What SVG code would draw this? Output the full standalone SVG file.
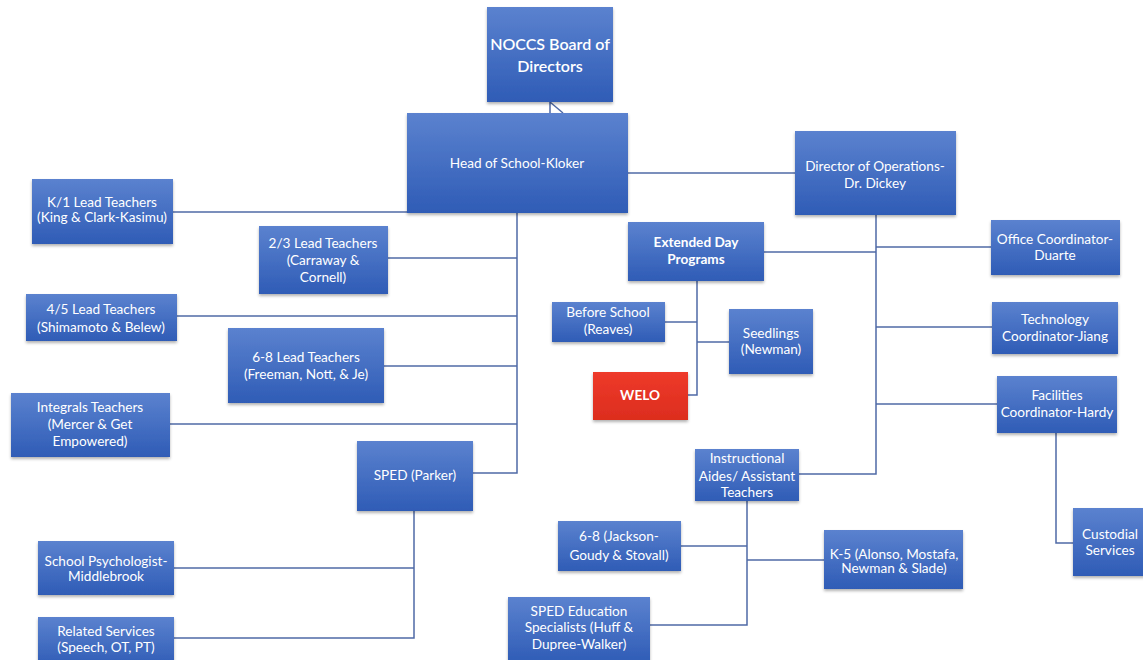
<svg xmlns="http://www.w3.org/2000/svg" width="1143" height="660" viewBox="0 0 1143 660">
<style>
.b{fill:url(#g);filter:url(#sh)}
.r{fill:url(#gr);filter:url(#sh)}
text{font-family:Lato,"Open Sans","Liberation Sans",sans-serif;font-size:13.6px;fill:#fff;text-anchor:middle}
.big{font-size:16px;font-weight:600}
.bd{font-weight:bold}
.c path,.c line{stroke:#4f6aa6;stroke-width:1.5;fill:none}
</style>
<defs>
<linearGradient id="g" x1="0" y1="0" x2="0" y2="1">
<stop offset="0" stop-color="#5b82cf"/>
<stop offset="1" stop-color="#2f5cb6"/>
</linearGradient>
<linearGradient id="gr" x1="0" y1="0" x2="0" y2="1">
<stop offset="0" stop-color="#ee3a2a"/>
<stop offset="1" stop-color="#dc2d1e"/>
</linearGradient>
<filter id="sh" x="-10%" y="-10%" width="130%" height="140%">
<feDropShadow dx="0" dy="2" stdDeviation="1.5" flood-color="#000" flood-opacity="0.3"/>
</filter>
</defs>
<rect width="1143" height="660" fill="#fff"/>
<g class="c" id="connectors">
<path d="M550,113 L550,102 L563,113"/>
<line x1="628" y1="173" x2="795" y2="173"/>
<line x1="173" y1="212" x2="407" y2="212"/>
<path d="M517,213 V473 H473"/>
<line x1="388" y1="258" x2="517" y2="258"/>
<line x1="177" y1="316" x2="517" y2="316"/>
<line x1="384" y1="366" x2="517" y2="366"/>
<line x1="170" y1="424" x2="517" y2="424"/>
<path d="M414,511 V638 H174"/>
<line x1="174" y1="568" x2="414" y2="568"/>
<path d="M876,215 V474 H799"/>
<line x1="876" y1="247" x2="991" y2="247"/>
<line x1="764" y1="252" x2="876" y2="252"/>
<line x1="876" y1="327" x2="992" y2="327"/>
<line x1="876" y1="404" x2="997" y2="404"/>
<path d="M1056,433 V543 H1073"/>
<path d="M697,281 V395 H688"/>
<line x1="665" y1="322" x2="697" y2="322"/>
<line x1="697" y1="342" x2="729" y2="342"/>
<path d="M747,501 V625 H650"/>
<line x1="681" y1="546" x2="747" y2="546"/>
<line x1="747" y1="560" x2="824" y2="560"/>
</g>
<g id="board"><rect class="b" x="487" y="7" width="126" height="95"/><text class="big" x="550" y="50">NOCCS Board of</text><text class="big" x="550" y="72">Directors</text></g>
<g id="head"><rect class="b" x="407" y="113" width="221" height="100"/><text x="517" y="168">Head of School-Kloker</text></g>
<g id="dirops"><rect class="b" x="795" y="131" width="161" height="84"/><text x="875" y="171">Director of Operations-</text><text x="875" y="188">Dr. Dickey</text></g>
<g id="k1"><rect class="b" x="32" y="179" width="141" height="65"/><text x="102" y="207">K/1 Lead Teachers</text><text x="102" y="222">(King &amp; Clark-Kasimu)</text></g>
<g id="l23"><rect class="b" x="259" y="226" width="129" height="68"/><text x="323" y="248">2/3 Lead Teachers</text><text x="323" y="265">(Carraway &amp;</text><text x="323" y="282">Cornell)</text></g>
<g id="l45"><rect class="b" x="26" y="294" width="151" height="47"/><text x="101" y="314">4/5 Lead Teachers</text><text x="101" y="332">(Shimamoto &amp; Belew)</text></g>
<g id="l68"><rect class="b" x="228" y="328" width="156" height="75"/><text x="306" y="362">6-8 Lead Teachers</text><text x="306" y="379">(Freeman, Nott, &amp; Je)</text></g>
<g id="integrals"><rect class="b" x="11" y="393" width="159" height="64"/><text x="90" y="412">Integrals Teachers</text><text x="90" y="429">(Mercer &amp; Get</text><text x="90" y="446">Empowered)</text></g>
<g id="sped"><rect class="b" x="357" y="441" width="116" height="70"/><text x="415" y="480">SPED (Parker)</text></g>
<g id="psych"><rect class="b" x="38" y="541" width="136" height="54"/><text x="106" y="566">School Psychologist-</text><text x="106" y="581">Middlebrook</text></g>
<g id="related"><rect class="b" x="38" y="617" width="136" height="50"/><text x="106" y="636">Related Services</text><text x="106" y="652">(Speech, OT, PT)</text></g>
<g id="extended"><rect class="b" x="628" y="222" width="136" height="59"/><text class="bd" x="696" y="247">Extended Day</text><text class="bd" x="696" y="264">Programs</text></g>
<g id="before"><rect class="b" x="552" y="302" width="113" height="40"/><text x="608" y="317">Before School</text><text x="608" y="334">(Reaves)</text></g>
<g id="seedlings"><rect class="b" x="729" y="309" width="84" height="65"/><text x="771" y="338">Seedlings</text><text x="771" y="354">(Newman)</text></g>
<g id="welo"><rect class="r" x="593" y="372" width="95" height="48"/><text class="bd" x="640" y="400">WELO</text></g>
<g id="office"><rect class="b" x="991" y="220" width="129" height="55"/><text x="1055" y="244">Office Coordinator-</text><text x="1055" y="260">Duarte</text></g>
<g id="tech"><rect class="b" x="992" y="302" width="126" height="52"/><text x="1055" y="324">Technology</text><text x="1055" y="341">Coordinator-Jiang</text></g>
<g id="facilities"><rect class="b" x="997" y="376" width="120" height="57"/><text x="1057" y="400">Facilities</text><text x="1057" y="417">Coordinator-Hardy</text></g>
<g id="custodial"><rect class="b" x="1073" y="508" width="80" height="68"/><text x="1110" y="539">Custodial</text><text x="1110" y="555">Services</text></g>
<g id="aides"><rect class="b" x="695" y="449" width="104" height="52"/><text x="747" y="463">Instructional</text><text x="747" y="481">Aides/ Assistant</text><text x="747" y="497">Teachers</text></g>
<g id="a68"><rect class="b" x="558" y="521" width="123" height="50"/><text x="619" y="541">6-8 (Jackson-</text><text x="619" y="560">Goudy &amp; Stovall)</text></g>
<g id="k5"><rect class="b" x="824" y="530" width="139" height="59"/><text x="894" y="559">K-5 (Alonso, Mostafa,</text><text x="894" y="573">Newman &amp; Slade)</text></g>
<g id="spedspec"><rect class="b" x="508" y="597" width="142" height="66"/><text x="579" y="616">SPED Education</text><text x="579" y="632">Specialists (Huff &amp;</text><text x="579" y="649">Dupree-Walker)</text></g>
</svg>
